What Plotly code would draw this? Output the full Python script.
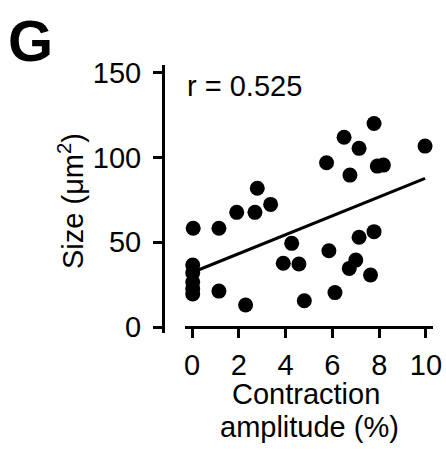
import numpy as np
import plotly.graph_objects as go

# Data
amplitude = [0.05, 0.03, 0.03, 0.03, 0.03, 0.03, 1.15, 1.15, 1.91, 2.29, 2.69, 2.79, 3.36,
             3.90, 4.26, 4.57, 4.80, 5.75, 5.85, 6.11, 6.50, 6.75, 6.72, 7.00, 7.14, 7.14,
             7.63, 7.78, 7.78, 7.92, 8.18, 9.96]
size = [58.3, 36.6, 32.0, 26.5, 22.5, 19.5, 58.3, 21.2, 67.7, 13.0, 67.7, 81.9, 72.4,
        37.6, 49.4, 37.2, 15.5, 97.0, 45.0, 20.3, 112.0, 89.7, 34.6, 39.5, 105.5, 53.0,
        30.7, 120.2, 56.3, 95.0, 95.6, 106.8]
x_ticks = [0, 2, 4, 6, 8, 10]
y_ticks = [0, 50, 100, 150]
r_label = "r = 0.525"

W, H = 446, 450
FONT = "Liberation Sans, Arial, Helvetica, sans-serif"

xa = np.array(amplitude)
ya = np.array(size)
slope, intercept = np.polyfit(xa, ya, 1)
fit_x = np.array([xa.min(), xa.max()])
fit_y = slope * fit_x + intercept

fig = go.Figure()
fig.add_trace(go.Scatter(x=xa, y=ya, mode="markers",
                         marker=dict(color="black", size=15, line=dict(width=0)),
                         cliponaxis=False, showlegend=False))
fig.add_trace(go.Scatter(x=fit_x, y=fit_y, mode="lines",
                         line=dict(color="black", width=3),
                         cliponaxis=False, showlegend=False))

fig.update_layout(
    width=W, height=H,
    margin=dict(l=0, r=0, t=0, b=0),
    paper_bgcolor="white", plot_bgcolor="white",
    font=dict(family=FONT, size=29, color="black"),
    xaxis=dict(domain=[185 / W, 433 / W], range=[-0.3, 10.3],
               anchor="free", position=1 - 327 / H,
               tickvals=x_ticks, ticks="outside", ticklen=9, tickwidth=3,
               tickcolor="black", showline=True, linewidth=3, linecolor="black",
               showgrid=False, zeroline=False, automargin=False,
               tickfont=dict(size=29), ticklabelstandoff=2),
    yaxis=dict(domain=[1 - 333 / H, 1 - 65 / H], range=[-3.54, 154.7],
               anchor="free", position=163 / W,
               tickvals=y_ticks, ticks="outside", ticklen=9, tickwidth=3,
               tickcolor="black", showline=True, linewidth=3, linecolor="black",
               showgrid=False, zeroline=False, automargin=False,
               tickfont=dict(size=29), ticklabelstandoff=6),
)

ann = [
    dict(text="<b>G</b>", x=6 / W, y=1 - 40 / H, xanchor="left", yanchor="middle",
         font=dict(size=58)),
    dict(text=r_label, x=185 / W, y=1 - 86 / H, xanchor="left", yanchor="middle",
         font=dict(size=29)),
    dict(text="Size (μm<sup>2</sup>)", x=71 / W, y=1 - 201 / H, textangle=-90,
         xanchor="center", yanchor="middle", font=dict(size=29)),
    dict(text="Contraction", x=306 / W, y=1 - 394 / H, xanchor="center",
         yanchor="middle", font=dict(size=29)),
    dict(text="amplitude (%)", x=309 / W, y=1 - 427 / H, xanchor="center",
         yanchor="middle", font=dict(size=29)),
]
for a in ann:
    a.update(xref="paper", yref="paper", showarrow=False)
fig.update_layout(annotations=ann)

fig.write_html("out.html")
